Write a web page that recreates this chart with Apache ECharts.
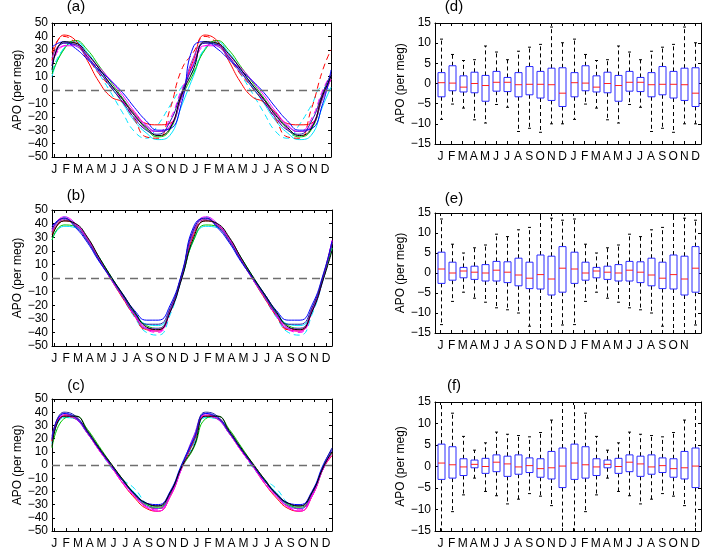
<!DOCTYPE html>
<html>
<head>
<meta charset="utf-8">
<title>APO seasonal cycles</title>
<script src="https://cdn.jsdelivr.net/npm/echarts@6.0.0/dist/echarts.min.js"></script>
<style>
  html, body { margin: 0; padding: 0; background: #fff; }
  #chart { width: 710px; height: 550px; }
</style>
</head>
<body>
<div id="chart"></div>
<script>
// month letters, two years
var months = ["J", "F", "M", "A", "M", "J", "J", "A", "S", "O", "N", "D"];
var monthLabels = months.concat(months);
var monthLabelsE = months.concat(months.slice(0, 11)).concat([""]);

// x positions (months) of the curve samples, and month-label positions
var curveTimes = [0.3, 1.3, 2.3, 3.3, 4.3, 5.3, 6.3, 7.3, 8.3, 9.3, 10.3, 11.3,
                  12.3, 13.3, 14.3, 15.3, 16.3, 17.3, 18.3, 19.3, 20.3, 21.3, 22.3, 23.3, 24.0];
var monthTicks = [0.5, 1.5, 2.5, 3.5, 4.5, 5.5, 6.5, 7.5, 8.5, 9.5, 10.5, 11.5,
                  12.5, 13.5, 14.5, 15.5, 16.5, 17.5, 18.5, 19.5, 20.5, 21.5, 22.5, 23.5];

// one row per model: 12 monthly values (repeated for year 2) + value at right edge
// order: cyan, cyan--, green, red, red--, magenta, magenta--, purple, blue, navy, black
var curvesA = [
  [10, 31, 36, 28, 16, 3, -10, -23, -32, -37, -34, -12, 2],
  [14, 31, 35, 25, 12, -2, -17, -31, -36, -26, -12, 2, 0],
  [12, 30, 37, 30, 18, 6, -6, -18, -29, -35, -30, -6, 8],
  [22, 41, 37, 22, 6, -5, -9, -17, -25, -26, -25, -3, 8],
  [28, 40, 35, 24, 12, 2, -9, -22, -35, -36, -15, 15, 30],
  [20, 33, 33, 26, 17, 7, -4, -16, -26, -31, -27, -6, 8],
  [18, 33, 34, 25, 15, 4, -8, -20, -29, -31, -22, 0, 12],
  [24, 35, 33, 24, 13, 4, -7, -18, -27, -31, -28, -5, 10],
  [32, 36, 31, 23, 15, 7, -2, -13, -23, -30, -29, -10, 15],
  [18, 35, 34, 25, 14, 2, -9, -21, -30, -33, -24, -2, 12],
  [15, 36, 35, 27, 16, 4, -7, -19, -28, -34, -29, -4, 10]
];
var curvesB = [
  [28, 38, 37, 28, 15, 1, -12, -25, -34, -35, -25, 0, 22],
  [33, 45, 40, 29, 13, -1, -15, -29, -40, -42, -27, 1, 26],
  [28, 39, 38, 29, 15, 1, -13, -26, -35, -37, -24, 1, 22],
  [32, 42, 39, 29, 14, -1, -15, -28, -38, -39, -24, 2, 26],
  [34, 43, 39, 28, 13, -1, -14, -28, -38, -38, -23, 3, 27],
  [35, 45, 40, 29, 14, -1, -14, -27, -37, -39, -25, 1, 28],
  [36, 44, 39, 28, 13, -1, -14, -28, -38, -40, -24, 3, 27],
  [34, 43, 39, 28, 13, -1, -14, -27, -37, -37, -24, 2, 26],
  [38, 44, 37, 26, 12, 0, -12, -24, -31, -31, -20, 4, 27],
  [36, 44, 38, 27, 13, 0, -13, -26, -34, -34, -22, 3, 25],
  [30, 42, 40, 30, 15, 1, -12, -25, -36, -38, -25, 0, 20]
];
var curvesC = [
  [17, 36, 35, 25, 12, -1, -12, -21, -30, -33, -23, -1, 10],
  [16, 36, 35, 25, 12, -2, -11, -18, -29, -33, -22, -1, 10],
  [13, 35, 37, 27, 14, 1, -11, -22, -30, -32, -23, -2, 9],
  [18, 37, 35, 24, 11, -1, -14, -25, -33, -35, -24, -2, 7],
  [18, 38, 36, 25, 12, 0, -12, -23, -31, -33, -22, -1, 9],
  [21, 38, 35, 24, 11, -1, -14, -24, -32, -35, -24, -2, 8],
  [19, 37, 35, 24, 11, -1, -13, -23, -32, -34, -23, -2, 9],
  [22, 39, 35, 24, 12, 0, -12, -23, -31, -33, -22, -1, 11],
  [20, 39, 36, 25, 12, 0, -12, -22, -29, -30, -20, 1, 12],
  [19, 40, 37, 25, 12, 0, -12, -22, -29, -31, -21, 0, 13],
  [14, 37, 37, 26, 13, 1, -11, -22, -29, -31, -21, -1, 10]
];
var curveColors = ["#00e5ff", "#00e5ff", "#00c800", "#ff0000", "#ff0000", "#ff00ff",
                   "#ff00ff", "#8a2be2", "#0000ff", "#1c1ca8", "#000000"];
var curveDashed = [false, true, false, false, true, false, true, false, false, false, false];

// box plots: whisker ends, quartiles, median per month
var dHigh = [11.0, 7.2, 5.7, 5.9, 9.3, 7.8, 5.9, 8.0, 9.0, 9.7, 14.0, 10.1];
var dQ3   = [2.7, 4.4, 1.9, 2.8, 2.0, 3.0, 1.5, 2.7, 4.2, 3.0, 3.8, 3.9];
var dMed  = [0.2, 0.1, -0.9, 0, -0.5, 0.3, 0.3, -0.3, -0.2, -0.2, -0.3, -2.4];
var dQ1   = [-3.3, -1.8, -2.1, -2.3, -4.4, -1.9, -2.0, -3.3, -2.8, -3.6, -4.2, -5.7];
var dLow  = [-8.9, -5.1, -6.1, -9.0, -9.8, -5.2, -5.9, -11.9, -11.1, -12.1, -10.0, -10.0];

var eHigh = [13.5, 7.2, 5.0, 6.3, 7.0, 9.7, 9.1, 10.8, 11.4, 16, 13.7, 13.2];
var eQ3   = [5.2, 2.7, 1.4, 1.7, 2.1, 2.9, 2.8, 3.7, 2.7, 4.5, 4.2, 6.6];
var eMed  = [1.0, 0, 0.5, 0.2, 0, 0.7, 0.2, -0.5, -1.3, -0.4, -1.5, 1.2];
var eQ1   = [-2.6, -1.8, -1.2, -1.6, -2.0, -2.0, -2.4, -3.2, -3.9, -4.0, -5.5, -4.8];
var eLow  = [-12.9, -7.1, -4.8, -6.3, -7.3, -8.7, -9.2, -10.0, -13.3, -16, -16, -13.0];

var fHigh = [16, 12.4, 7.0, 3.8, 5.5, 8.0, 7.5, 7.2, 6.9, 7.9, 10.8, 16];
var fQ3   = [5.2, 4.6, 1.8, 1.5, 1.9, 2.7, 2.4, 2.7, 2.0, 1.8, 3.5, 4.3];
var fMed  = [0.8, 0.4, -0.1, 0.5, 0, 1.0, 0.6, -0.1, 0.2, -0.5, -0.3, 0.1];
var fQ1   = [-3.0, -2.7, -2.1, -0.3, -1.6, -1.2, -2.3, -1.8, -1.4, -2.5, -2.9, -4.9];
var fLow  = [-16, -10.5, -6.6, -2.7, -5.8, -6.8, -8.7, -7.6, -6.3, -6.9, -9.1, -16];

var fontFam = "Liberation Sans, Arial, Helvetica, sans-serif";

function minusFmt(v) {
  return v < 0 ? "\u2212" + Math.abs(v) : String(v);
}

function curveData(row) {
  return curveTimes.map(function (t, i) {
    return [t, i < 24 ? row[i % 12] : row[12]];
  });
}

function boxData(low, q1, med, q3, high) {
  var out = [];
  for (var i = 0; i < 24; i++) {
    var m = i % 12;
    out.push([i, low[m], q1[m], med[m], q3[m], high[m]]);
  }
  return out;
}

function renderBox(params, api) {
  var cs = params.coordSys;
  var top = cs.y, bottom = cs.y + cs.height;
  var i = api.value(0);
  var lo = api.coord([i, api.value(1)])[1];
  var q1 = api.coord([i, api.value(2)])[1];
  var md = api.coord([i, api.value(3)])[1];
  var q3 = api.coord([i, api.value(4)])[1];
  var hi = api.coord([i, api.value(5)])[1];
  var x = Math.round(api.coord([i, 0])[0]) + 0.5;
  var hw = 3.5, cw = 1.5;
  var kids = [];
  var dash = { stroke: "#000", lineWidth: 1, lineDash: [4, 3] };
  var hiC = Math.max(hi, top), loC = Math.min(lo, bottom);
  kids.push({ type: "line", shape: { x1: x, y1: q3, x2: x, y2: hiC }, style: dash });
  kids.push({ type: "line", shape: { x1: x, y1: q1, x2: x, y2: loC }, style: dash });
  if (hi >= top) {
    kids.push({ type: "line", shape: { x1: x - cw, y1: hi, x2: x + cw, y2: hi }, style: { stroke: "#000", lineWidth: 1 } });
  }
  if (lo <= bottom) {
    kids.push({ type: "line", shape: { x1: x - cw, y1: lo, x2: x + cw, y2: lo }, style: { stroke: "#000", lineWidth: 1 } });
  }
  kids.push({ type: "rect", shape: { x: x - hw, y: q3, width: 2 * hw, height: q1 - q3 },
              style: { fill: "#fff", stroke: "#2a2aff", lineWidth: 1 } });
  kids.push({ type: "line", shape: { x1: x - hw, y1: md, x2: x + hw, y2: md },
              style: { stroke: "#ff2020", lineWidth: 1 } });
  return { type: "group", children: kids };
}

var grids = [
  { left: 52, top: 23, width: 279, height: 134 },
  { left: 52, top: 210, width: 280, height: 136 },
  { left: 52, top: 399, width: 280, height: 135 },
  { left: 435, top: 23, width: 266, height: 121 },
  { left: 435, top: 213, width: 266, height: 120 },
  { left: 435, top: 402, width: 266, height: 129 }
];

var lineBlack = { color: "#000", width: 1 };
var xAxes = [], yAxes = [], series = [];

for (var g = 0; g < 6; g++) {
  var isLine = g < 3;
  if (isLine) {
    xAxes.push({
      gridIndex: g, type: "value", min: 0.3, max: 24, position: "bottom",
      axisLine: { show: true, onZero: false, lineStyle: lineBlack },
      splitLine: { show: false },
      axisTick: { show: true, inside: true, length: 3, customValues: monthTicks, lineStyle: lineBlack },
      axisLabel: {
        customValues: monthTicks, margin: 7, color: "#000", fontSize: 12, fontFamily: fontFam,
        formatter: function (v) { return monthLabels[Math.floor(v)]; }
      }
    });
    xAxes.push({
      gridIndex: g, type: "value", min: 0.3, max: 24, position: "top",
      axisLine: { show: true, onZero: false, lineStyle: lineBlack },
      splitLine: { show: false },
      axisTick: { show: true, inside: true, length: 3, customValues: monthTicks, lineStyle: lineBlack },
      axisLabel: { show: false }
    });
  } else {
    xAxes.push({
      gridIndex: g, type: "category", data: g === 4 ? monthLabelsE : monthLabels,
      boundaryGap: true, position: "bottom",
      axisLine: { show: true, onZero: false, lineStyle: lineBlack },
      axisTick: { show: true, inside: true, length: 3, alignWithLabel: true, interval: 0, lineStyle: lineBlack },
      axisLabel: { interval: 0, margin: 7, color: "#000", fontSize: 12, fontFamily: fontFam }
    });
    xAxes.push({
      gridIndex: g, type: "category", data: monthLabels, boundaryGap: true, position: "top",
      axisLine: { show: true, onZero: false, lineStyle: lineBlack },
      axisTick: { show: true, inside: true, length: 3, alignWithLabel: true, interval: 0, lineStyle: lineBlack },
      axisLabel: { show: false }
    });
  }
  var ymin = isLine ? -50 : -15, ymax = isLine ? 50 : 15, step = isLine ? 10 : 5;
  yAxes.push({
    gridIndex: g, type: "value", min: ymin, max: ymax, interval: step, position: "left",
    name: "APO (per meg)", nameLocation: "middle", nameGap: isLine ? 28 : 26,
    nameTextStyle: { color: "#000", fontSize: 12, fontFamily: fontFam },
    axisLine: { show: true, onZero: false, lineStyle: lineBlack },
    splitLine: { show: false },
    axisTick: { show: true, inside: true, length: 3, lineStyle: lineBlack },
    axisLabel: { margin: 4, color: "#000", fontSize: 12, fontFamily: fontFam, formatter: minusFmt }
  });
  yAxes.push({
    gridIndex: g, type: "value", min: ymin, max: ymax, interval: step, position: "right",
    axisLine: { show: true, onZero: false, lineStyle: lineBlack },
    splitLine: { show: false },
    axisTick: { show: true, inside: true, length: 3, lineStyle: lineBlack },
    axisLabel: { show: false }
  });
}

[curvesA, curvesB, curvesC].forEach(function (rows, p) {
  rows.forEach(function (row, j) {
    var s = {
      type: "line", xAxisIndex: 2 * p, yAxisIndex: 2 * p,
      data: curveData(row), smooth: 0.5, symbol: "none", silent: true,
      lineStyle: { color: curveColors[j], width: 1, type: curveDashed[j] ? [6, 4] : "solid" }
    };
    if (j === 0) {
      s.markLine = {
        silent: true, symbol: "none", label: { show: false },
        lineStyle: { color: "#6e6e6e", width: 1.3, type: [8, 5] },
        data: [{ yAxis: 0 }]
      };
    }
    series.push(s);
  });
});

[
  boxData(dLow, dQ1, dMed, dQ3, dHigh),
  boxData(eLow, eQ1, eMed, eQ3, eHigh),
  boxData(fLow, fQ1, fMed, fQ3, fHigh)
].forEach(function (data, k) {
  var g = 3 + k;
  series.push({
    type: "custom", xAxisIndex: 2 * g, yAxisIndex: 2 * g,
    renderItem: renderBox, data: data, clip: true, silent: true,
    encode: { x: 0, y: [1, 2, 3, 4, 5] }
  });
});

var panelTitles = [
  { text: "(a)", x: 76, y: 7 },
  { text: "(b)", x: 76, y: 196 },
  { text: "(c)", x: 76, y: 386 },
  { text: "(d)", x: 454, y: 7 },
  { text: "(e)", x: 454, y: 199 },
  { text: "(f)", x: 454, y: 386 }
];

var chart = echarts.init(document.getElementById("chart"), null, { renderer: "canvas" });
var option = {
  backgroundColor: "#fff",
  animation: false,
  grid: grids,
  xAxis: xAxes,
  yAxis: yAxes,
  series: series,
  graphic: panelTitles.map(function (t) {
    return {
      type: "text", x: t.x, y: t.y,
      style: { text: t.text, fill: "#000", font: "15px " + fontFam, textAlign: "center", textVerticalAlign: "middle" }
    };
  })
};
chart.setOption(option);
</script>
</body>
</html>
